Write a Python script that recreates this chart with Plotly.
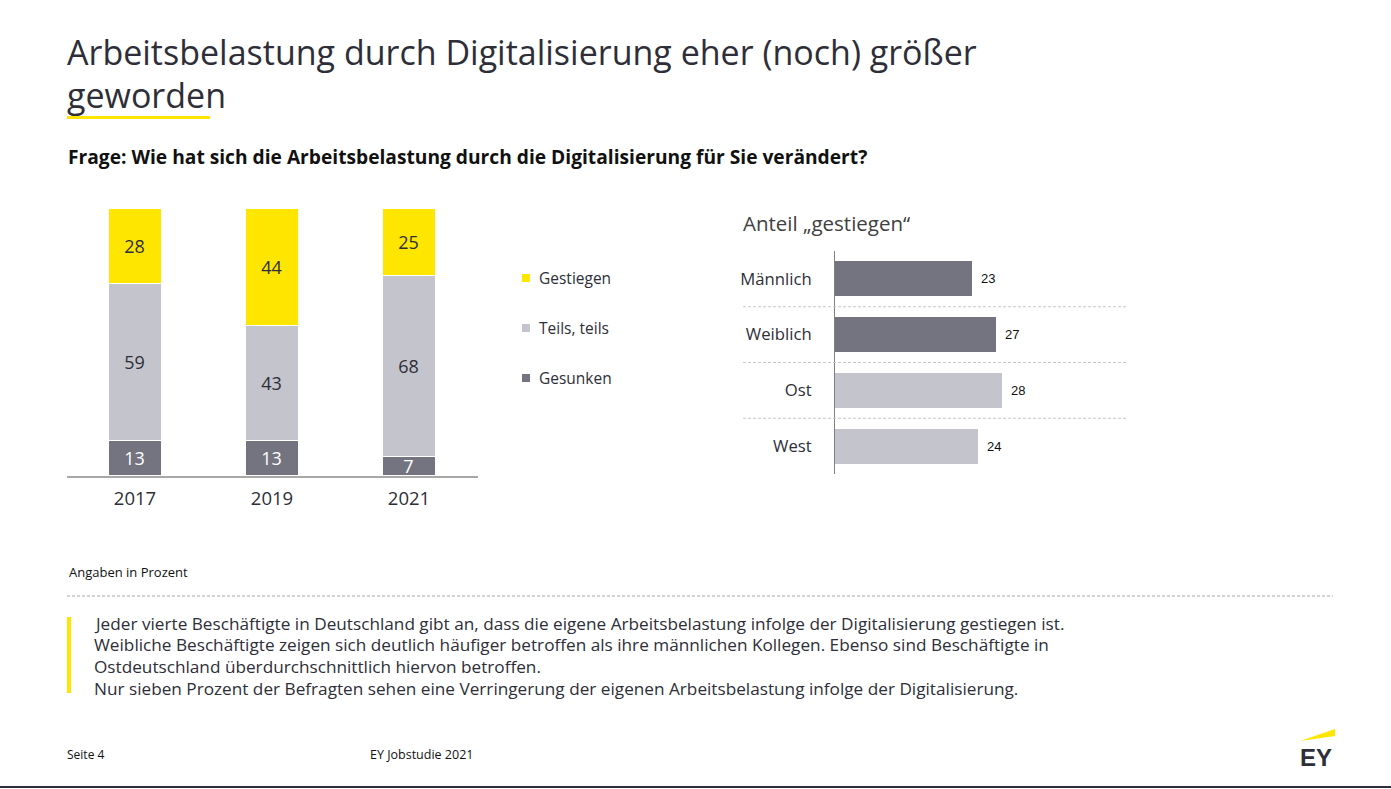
import plotly.graph_objects as go

W, H = 1391, 789

# ---- data ----
years = ["2017", "2019", "2021"]
gesunken = [13, 13, 7]
teils = [59, 43, 68]
gestiegen = [28, 44, 25]
series_names = ["Gestiegen", "Teils, teils", "Gesunken"]

groups = ["Männlich", "Weiblich", "Ost", "West"]
anteil_gestiegen = [23, 27, 28, 24]

title_line1 = "Arbeitsbelastung durch Digitalisierung eher (noch) größer"
title_line2 = "geworden"
question = "Frage: Wie hat sich die Arbeitsbelastung durch die Digitalisierung für Sie verändert?"
right_title = "Anteil „gestiegen“"
note = "Angaben in Prozent"
body_lines = [
    "Jeder vierte Beschäftigte in Deutschland gibt an, dass die eigene Arbeitsbelastung infolge der Digitalisierung gestiegen ist.",
    "Weibliche Beschäftigte zeigen sich deutlich häufiger betroffen als ihre männlichen Kollegen. Ebenso sind Beschäftigte in",
    "Ostdeutschland überdurchschnittlich hiervon betroffen.",
    "Nur sieben Prozent der Befragten sehen eine Verringerung der eigenen Arbeitsbelastung infolge der Digitalisierung.",
]
footer_left = "Seite 4"
footer_mid = "EY Jobstudie 2021"

# ---- styles ----
YELLOW = "#FFE600"
LIGHT = "#C4C4CD"
DARK = "#747480"
TXT = "#2E2E38"
FONT = "Open Sans"


def px(x):
    return x / W


def py(y):
    return 1 - y / H


fig = go.Figure()

# stacked bars (left)
for vals, col, tcol, name in [
    (gesunken, DARK, "white", series_names[2]),
    (teils, LIGHT, TXT, series_names[1]),
    (gestiegen, YELLOW, TXT, series_names[0]),
]:
    fig.add_trace(go.Bar(
        x=years, y=vals, name=name, marker=dict(color=col, line=dict(color="white", width=1)),
        width=0.394, text=[str(v) for v in vals], textposition="inside",
        insidetextanchor="middle", textangle=0, constraintext="none",
        textfont=dict(color=tcol, size=18, family=FONT),
        xaxis="x", yaxis="y", showlegend=False, hoverinfo="skip",
    ))

# horizontal bars (right)
bar_cols = [DARK, DARK, LIGHT, LIGHT]
fig.add_trace(go.Bar(
    x=anteil_gestiegen, y=groups, orientation="h", width=0.63,
    marker=dict(color=bar_cols, line=dict(width=0)),
    xaxis="x2", yaxis="y2", showlegend=False, hoverinfo="skip",
))

annotations = []
shapes = []

for g, v in zip(groups, anteil_gestiegen):
    annotations.append(dict(x=v, y=g, xref="x2", yref="y2", text=str(v), showarrow=False,
                            xanchor="left", yanchor="middle", xshift=7,
                            font=dict(family="Arial", size=13, color="#111111")))

# separators on right chart
for b in [0.5, 1.5, 2.5]:
    shapes.append(dict(type="line", xref="paper", yref="y2", x0=px(743), x1=px(1127), y0=b, y1=b,
                       line=dict(color="#C8C8C8", width=1, dash="3px,2px")))

# legend (custom)
for name, col, yc in [(series_names[0], YELLOW, 278), (series_names[1], LIGHT, 328), (series_names[2], DARK, 378)]:
    shapes.append(dict(type="rect", xref="paper", yref="paper", x0=px(522), x1=px(530),
                       y0=py(yc + 4), y1=py(yc - 4), fillcolor=col, line=dict(width=0)))
    annotations.append(dict(x=px(537), y=py(yc), xref="paper", yref="paper", text=name, showarrow=False,
                            xanchor="left", yanchor="middle", font=dict(family=FONT, size=15.5, color=TXT)))

# titles
annotations.append(dict(x=px(65), y=py(52), xref="paper", yref="paper", text=title_line1, showarrow=False,
                        xanchor="left", yanchor="middle", font=dict(family=FONT, size=34, color=TXT)))
annotations.append(dict(x=px(65), y=py(95), xref="paper", yref="paper", text=title_line2, showarrow=False,
                        xanchor="left", yanchor="middle", font=dict(family=FONT, size=34, color=TXT)))
shapes.append(dict(type="rect", xref="paper", yref="paper", x0=px(67), x1=px(210), y0=py(119), y1=py(116),
                   fillcolor=YELLOW, line=dict(width=0)))
annotations.append(dict(x=px(66), y=py(157), xref="paper", yref="paper", text="<b>" + question + "</b>",
                        showarrow=False, xanchor="left", yanchor="middle",
                        font=dict(family=FONT, size=19.2, color="#111111")))
annotations.append(dict(x=px(741), y=py(223), xref="paper", yref="paper", text=right_title, showarrow=False,
                        xanchor="left", yanchor="middle", font=dict(family=FONT, size=20.5, color="#404040")))

# note + dashed rule
annotations.append(dict(x=px(67), y=py(572), xref="paper", yref="paper", text=note, showarrow=False,
                        xanchor="left", yanchor="middle", font=dict(family=FONT, size=13, color="#111111")))
shapes.append(dict(type="line", xref="paper", yref="paper", x0=px(67), x1=px(1333), y0=py(596), y1=py(596),
                   line=dict(color="#A8A8A8", width=1, dash="3px,2px")))

# body text with yellow bar
shapes.append(dict(type="rect", xref="paper", yref="paper", x0=px(67), x1=px(71), y0=py(693), y1=py(617),
                   fillcolor=YELLOW, line=dict(width=0)))
for i, line in enumerate(body_lines):
    annotations.append(dict(x=px(92), y=py(623 + i * 21.7), xref="paper", yref="paper", text=line,
                            showarrow=False, xanchor="left", yanchor="middle",
                            font=dict(family=FONT, size=17.2, color=TXT)))

# footer
annotations.append(dict(x=px(65), y=py(754), xref="paper", yref="paper", text=footer_left, showarrow=False,
                        xanchor="left", yanchor="middle", font=dict(family=FONT, size=12, color="#111111")))
annotations.append(dict(x=px(368), y=py(754), xref="paper", yref="paper", text=footer_mid, showarrow=False,
                        xanchor="left", yanchor="middle", font=dict(family=FONT, size=12.5, color="#111111")))
shapes.append(dict(type="line", xref="paper", yref="paper", x0=0, x1=1, y0=py(787), y1=py(787),
                   line=dict(color=TXT, width=2)))

# EY logo
shapes.append(dict(type="path", xref="paper", yref="paper",
                   path=f"M {px(1300)},{py(741)} L {px(1335)},{py(729)} L {px(1335)},{py(736)} Z",
                   fillcolor=YELLOW, line=dict(width=0)))
annotations.append(dict(x=px(1298), y=py(757), xref="paper", yref="paper", text="<b>EY</b>", showarrow=False,
                        xanchor="left", yanchor="middle", font=dict(family="Liberation Sans", size=24, color=TXT)))

fig.update_layout(
    width=W, height=H, margin=dict(l=0, r=0, t=0, b=0),
    paper_bgcolor="white", plot_bgcolor="rgba(0,0,0,0)",
    barmode="stack", bargap=0,
    font=dict(family=FONT, color=TXT),
    xaxis=dict(domain=[px(66.5), px(477.5)], range=[-0.5, 2.5], type="category",
               showline=True, linecolor="#A8A8A8", linewidth=2, showgrid=False, zeroline=False,
               ticks="", ticklabelstandoff=5, tickfont=dict(family=FONT, size=18.5, color=TXT),
               anchor="y", fixedrange=True),
    yaxis=dict(domain=[py(476), py(209)], range=[0, 100], visible=False, anchor="x"),
    xaxis2=dict(domain=[px(835), px(1127)], range=[0, 49], visible=False, anchor="y2"),
    yaxis2=dict(domain=[py(474), py(251)], range=[3.5, -0.5], type="category", anchor="x2",
                showline=True, linecolor="#808080", linewidth=1, showgrid=False, zeroline=False,
                ticks="", ticklabelstandoff=19, tickfont=dict(family=FONT, size=16.7, color=TXT)),
    annotations=annotations, shapes=shapes,
)

fig.write_html("out.html", config={"displayModeBar": False},
               post_script="document.body.style.margin='0';document.body.style.overflow='hidden';")
